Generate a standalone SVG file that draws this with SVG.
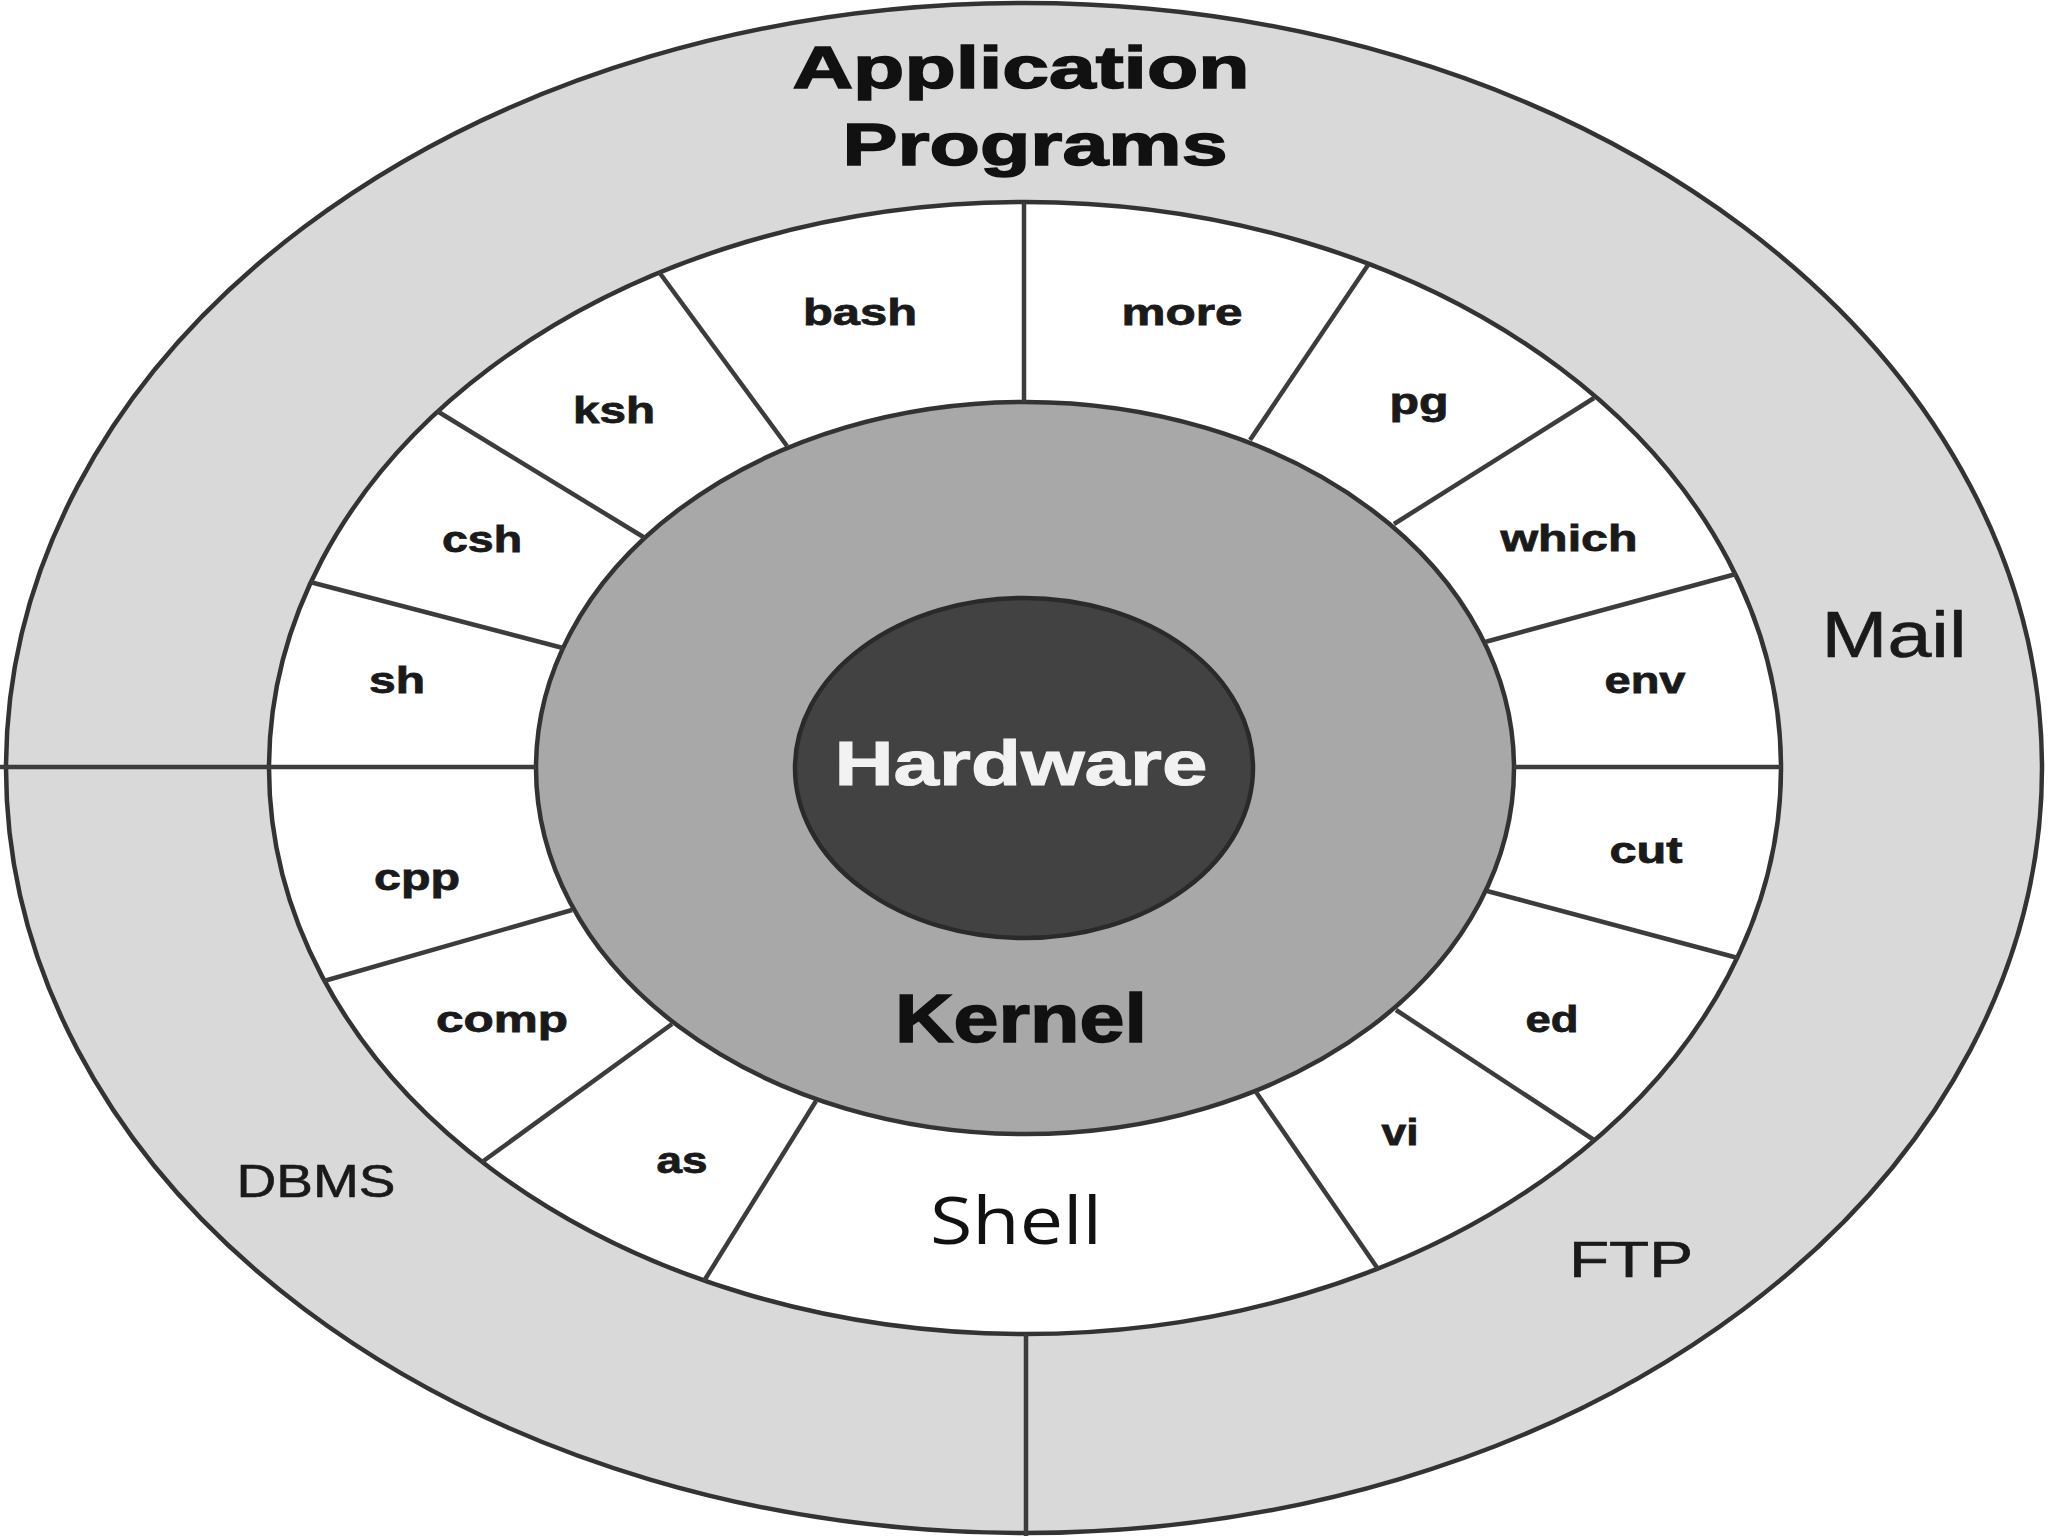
<svg xmlns="http://www.w3.org/2000/svg" width="2048" height="1536" viewBox="0 0 2048 1536">
  <style>
    .ring { stroke: #333333; stroke-width: 4.5; }
    .div { stroke: #3c3c3c; stroke-width: 4.5; fill: none; stroke-linecap: butt; }
    .lbl { font-family: "Liberation Sans", Arial, sans-serif; font-weight: bold; font-size: 37px; fill: #1a1a1a; stroke: #1a1a1a; stroke-width: 0.8; text-anchor: middle; }
    .big { font-family: "Liberation Sans", Arial, sans-serif; font-weight: bold; fill: #111111; stroke: #111111; stroke-width: 1.5; text-anchor: middle; }
    .hw { font-family: "Liberation Sans", Arial, sans-serif; font-weight: bold; fill: #f2f2f2; stroke: #f2f2f2; stroke-width: 1; text-anchor: middle; }
    .reg { font-family: "Liberation Sans", Arial, sans-serif; font-weight: normal; fill: #1a1a1a; stroke: #1a1a1a; stroke-width: 0.6; text-anchor: middle; }
    .soft { font-family: "Open Sans", "DejaVu Sans", sans-serif; font-weight: normal; fill: #111111; text-anchor: middle; }
  </style>
  <rect x="0" y="0" width="2048" height="1536" fill="#ffffff"/>

  <g id="application-programs">
    <ellipse class="ring" cx="1024" cy="768" rx="1018" ry="765" fill="#d9d9d9"/>
    <text class="big" x="1021" y="88" font-size="60" textLength="457" lengthAdjust="spacingAndGlyphs">Application</text>
    <text class="big" x="1035" y="165" font-size="60" textLength="385" lengthAdjust="spacingAndGlyphs">Programs</text>
  </g>
  <g id="mail">
    <text class="reg" x="1894" y="657" font-size="64" textLength="145" lengthAdjust="spacingAndGlyphs">Mail</text>
  </g>
  <g id="dbms">
    <text class="reg" x="316" y="1197" font-size="47" textLength="159" lengthAdjust="spacingAndGlyphs">DBMS</text>
  </g>
  <g id="ftp">
    <text class="reg" x="1631" y="1277" font-size="50" textLength="124" lengthAdjust="spacingAndGlyphs">FTP</text>
  </g>

  <g id="shell">
    <ellipse class="ring" cx="1025" cy="768" rx="756" ry="566" fill="#ffffff"/>
    <text class="soft" x="1016" y="1244" font-size="66" textLength="172" lengthAdjust="spacingAndGlyphs">Shell</text>
  </g>

  <g id="kernel">
    <ellipse class="ring" cx="1025" cy="768" rx="489" ry="366" fill="#a8a8a8"/>
    <text class="big" x="1021" y="1042" font-size="68" textLength="252" lengthAdjust="spacingAndGlyphs">Kernel</text>
  </g>

  <g id="hardware">
    <ellipse cx="1024" cy="768" rx="229" ry="170" fill="#424242" stroke="#2a2a2a" stroke-width="4.5"/>
    <text class="hw" x="1021" y="785" font-size="63" textLength="373" lengthAdjust="spacingAndGlyphs">Hardware</text>
  </g>

  <g id="connectors">
    <line class="div" x1="0" y1="767" x2="536" y2="767"/>
    <line class="div" x1="1514" y1="767" x2="1781" y2="767"/>
    <line class="div" x1="1024" y1="202" x2="1024" y2="402" stroke-width="5"/>
    <line class="div" x1="1026" y1="1334" x2="1026" y2="1536" stroke-width="5"/>
    <line class="div" x1="310" y1="582" x2="563" y2="648"/>
    <line class="div" x1="437" y1="411" x2="645" y2="538"/>
    <line class="div" x1="659" y1="272" x2="787" y2="446"/>
    <line class="div" x1="1368" y1="265" x2="1250" y2="440"/>
    <line class="div" x1="1594" y1="398" x2="1394" y2="524"/>
    <line class="div" x1="1736" y1="574" x2="1485" y2="642"/>
    <line class="div" x1="324" y1="981" x2="572" y2="910"/>
    <line class="div" x1="482" y1="1162" x2="672" y2="1024"/>
    <line class="div" x1="704" y1="1281" x2="816" y2="1101"/>
    <line class="div" x1="1738" y1="958" x2="1487" y2="891"/>
    <line class="div" x1="1594" y1="1140" x2="1396" y2="1010"/>
    <line class="div" x1="1378" y1="1269" x2="1256" y2="1092"/>
  </g>

  <g id="seg-bash"><text class="lbl" x="860" y="325" textLength="114" lengthAdjust="spacingAndGlyphs">bash</text></g>
  <g id="seg-ksh"><text class="lbl" x="614" y="423" textLength="82" lengthAdjust="spacingAndGlyphs">ksh</text></g>
  <g id="seg-csh"><text class="lbl" x="482" y="552" textLength="80" lengthAdjust="spacingAndGlyphs">csh</text></g>
  <g id="seg-sh"><text class="lbl" x="397" y="693" textLength="56" lengthAdjust="spacingAndGlyphs">sh</text></g>
  <g id="seg-cpp"><text class="lbl" x="417" y="890" textLength="86" lengthAdjust="spacingAndGlyphs">cpp</text></g>
  <g id="seg-comp"><text class="lbl" x="502" y="1032" textLength="132" lengthAdjust="spacingAndGlyphs">comp</text></g>
  <g id="seg-as"><text class="lbl" x="682" y="1173" textLength="51" lengthAdjust="spacingAndGlyphs">as</text></g>
  <g id="seg-more"><text class="lbl" x="1182" y="325" textLength="121" lengthAdjust="spacingAndGlyphs">more</text></g>
  <g id="seg-pg"><text class="lbl" x="1419" y="414" textLength="59" lengthAdjust="spacingAndGlyphs">pg</text></g>
  <g id="seg-which"><text class="lbl" x="1569" y="551" textLength="137" lengthAdjust="spacingAndGlyphs">which</text></g>
  <g id="seg-env"><text class="lbl" x="1645" y="693" textLength="81" lengthAdjust="spacingAndGlyphs">env</text></g>
  <g id="seg-cut"><text class="lbl" x="1646" y="863" textLength="73" lengthAdjust="spacingAndGlyphs">cut</text></g>
  <g id="seg-ed"><text class="lbl" x="1552" y="1032" textLength="53" lengthAdjust="spacingAndGlyphs">ed</text></g>
  <g id="seg-vi"><text class="lbl" x="1400" y="1145" textLength="37" lengthAdjust="spacingAndGlyphs">vi</text></g>
</svg>
